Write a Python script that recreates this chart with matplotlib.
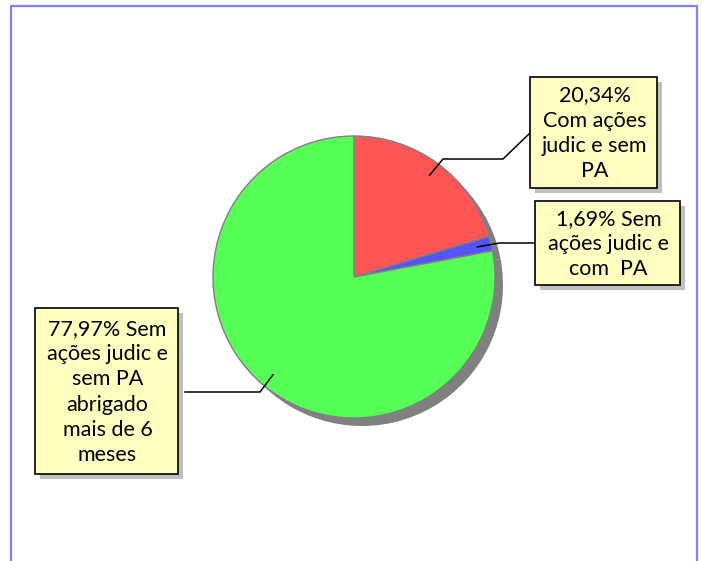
import matplotlib
matplotlib.use("Agg")
import matplotlib.pyplot as plt
import numpy as np
from matplotlib.patches import Rectangle

# Data
labels = ["20,34%\nCom ações\njudic e sem\nPA",
          "1,69% Sem\nações judic e\ncom  PA",
          "77,97% Sem\nações judic e\nsem PA\nabrigado\nmais de 6\nmeses"]
values = [20.34, 1.69, 77.97]
colors = ["#ff5555", "#5555ff", "#55ff55"]

W, H = 702, 561
fig = plt.figure(figsize=(W / 100, H / 100), dpi=100)

# overlay axes in pixel coordinates
ov = fig.add_axes([0, 0, 1, 1])
ov.set_xlim(0, W)
ov.set_ylim(H, 0)
ov.axis("off")

# frame
ov.plot([11, 11, 697, 697], [H + 5, 5.5, 5.5, H + 5], color="#8080ff", lw=1.6, clip_on=False)

# pie axes
cx, cy, R = 354, 277, 141
M = 170
pax = fig.add_axes([(cx - M) / W, (H - cy - M) / H, 2 * M / W, 2 * M / H], zorder=1)
lim = M / R
pax.axis("off")
sh = 8 / R
pax.pie(values, colors=["#808080"] * 3, startangle=90, counterclock=False,
        center=(sh, -sh), radius=1, wedgeprops=dict(linewidth=0))
wedges, _ = pax.pie(values, colors=colors, startangle=90, counterclock=False,
                    radius=1, wedgeprops=dict(edgecolor="#808080", linewidth=1.0))
pax.set_xlim(-lim, lim)
pax.set_ylim(-lim, lim)

ov.set_zorder(2)
ov.patch.set_alpha(0)

# label boxes: (x0, y0, x1, y1) in pixels
boxes = [(530, 77, 657, 188), (535, 201, 680, 285), (35, 308, 178, 474)]
elbows = [[(443, 159), (503, 159), (530, 133)],
          [(500, 243), (535, 243)],
          [(260, 392), (185, 392)]]
for w, b, lab, el in zip(wedges, boxes, labels, elbows):
    x0, y0, x1, y1 = b
    ov.add_patch(Rectangle((x0 + 5, y0 + 5), x1 - x0, y1 - y0, facecolor="#c0c0c0",
                           edgecolor="none", zorder=3))
    ov.add_patch(Rectangle((x0, y0), x1 - x0, y1 - y0, facecolor="#ffffc0",
                           edgecolor="#000000", lw=1.2, zorder=4))
    ov.text((x0 + x1) / 2 + 1, (y0 + y1) / 2 + 1, lab, ha="center", va="center",
            fontsize=15.5, family="Lato", linespacing=1.33, zorder=5, color="black")
    ang = np.deg2rad((w.theta1 + w.theta2) / 2)
    px = cx + 0.9 * R * np.cos(ang)
    py = cy - 0.9 * R * np.sin(ang)
    xs = [px] + [p[0] for p in el]
    ys = [py] + [p[1] for p in el]
    ov.plot(xs, ys, color="black", lw=1.1, zorder=2.5)

fig.savefig("out.png", dpi=100, facecolor="white")
